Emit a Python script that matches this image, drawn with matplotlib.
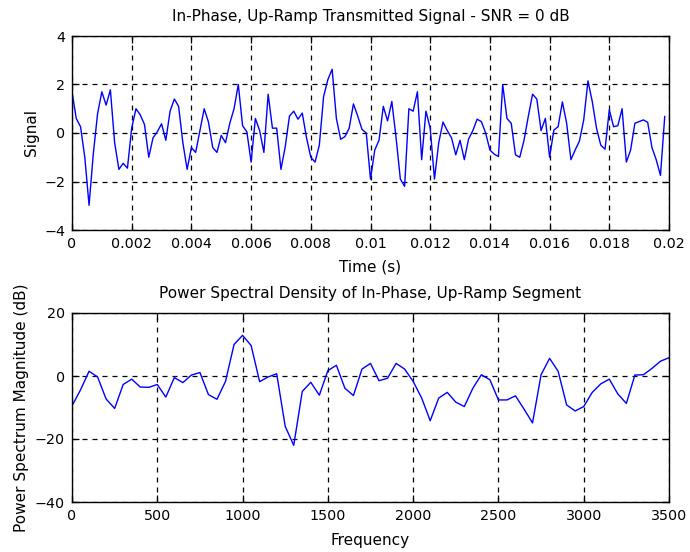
import numpy as np
import matplotlib
matplotlib.use("Agg")
import matplotlib.pyplot as plt
from matplotlib.ticker import FixedLocator, FixedFormatter

# ---- data ----
fs = 7000.0  # sample rate (Hz)
signal = [
    1.7, 0.6, 0.26, -1.0, -2.98, -0.85, 0.8, 1.7, 1.15, 1.78,
    -0.4, -1.5, -1.25, -1.45, 0.2, 1.0, 0.75, 0.35, -1.0, -0.2,
    0.05, 0.38, -0.3, 0.9, 1.4, 1.1, -0.4, -1.5, -0.6, -0.8,
    0.1, 1.0, 0.45, -0.6, -0.8, -0.1, -0.4, 0.4, 1.0, 2.0,
    0.3, 0.05, -1.2, 0.6, 0.1, -0.8, 1.6, 0.2, 0.2, -1.5,
    -0.57, 0.7, 0.9, 0.57, 0.82, -0.2, -1.0, -1.2, -0.5, 1.5,
    2.2, 2.63, 0.6, -0.26, -0.15, 0.2, 1.2, 0.7, 0.15, 0.0,
    -1.9, -0.7, -0.3, 1.1, 0.5, 1.3, -0.2, -1.9, -2.2, 1.0,
    0.9, 1.7, -1.1, 0.9, 0.2, -1.9, -0.4, 0.45, 0.1, -0.2,
    -0.9, -0.3, -1.1, -0.25, 0.1, 0.57, 0.47, 0.0, -0.7, -0.87,
    -0.97, 2.0, 0.6, 0.4, -0.9, -1.0, -0.3, 0.68, 1.6, 1.4,
    0.1, 0.6, -1.0, 0.12, 0.26, 1.28, 0.4, -1.1, -0.7, -0.33,
    0.54, 2.15, 1.3, 0.2, -0.5, -0.67, 0.96, 0.26, 0.3, 1.0,
    -1.2, -0.7, 0.4, 0.47, 0.54, 0.44, -0.6, -1.1, -1.75, 0.68,
]
time = np.arange(len(signal)) / fs

freq = np.arange(0, 3501, 50)
psd_db = [
    -9.5, -4.4, 1.5, -0.3, -7.3, -10.3, -2.7, -1.0, -3.5, -3.6,
    -2.7, -6.7, -0.5, -2.1, 0.3, 1.1, -5.9, -7.4, -1.7, 10.0,
    12.9, 9.7, -1.8, -0.3, 0.7, -16.0, -22.0, -4.9, -2.0, -6.1,
    1.7, 3.4, -3.9, -6.2, 2.2, 4.0, -1.5, -0.7, 4.0, 2.2,
    -1.7, -7.0, -14.2, -7.0, -5.2, -8.3, -9.7, -3.9, 0.4, -1.2,
    -7.6, -7.6, -6.3, -10.5, -14.9, 0.4, 5.6, 1.5, -9.2, -11.1,
    -9.7, -5.2, -2.5, -1.0, -5.7, -8.7, 0.3, 0.4, 2.4, 4.7,
    5.8,
]

top_xticks = [0, 0.002, 0.004, 0.006, 0.008, 0.01, 0.012, 0.014, 0.016, 0.018, 0.02]
top_xlabels = ["0", "0.002", "0.004", "0.006", "0.008", "0.01", "0.012", "0.014", "0.016", "0.018", "0.02"]
top_yticks = [-4, -2, 0, 2, 4]
bot_xticks = [0, 500, 1000, 1500, 2000, 2500, 3000, 3500]
bot_yticks = [-40, -20, 0, 20]

plt.rcParams['font.family'] = ['DejaVu Sans']

TICK_FS = 10.3
LABEL_FS = 11.0

fig = plt.figure(figsize=(6.9, 5.52), dpi=100)
ax1 = fig.add_axes([72/690, 1-230/552, 597/690, 194/552])
ax2 = fig.add_axes([72/690, 1-502/552, 597/690, 189/552])

def style(ax):
    ax.grid(True, color='black', linestyle=(0, (4, 4)), linewidth=0.9)
    ax.set_axisbelow(True)
    ax.tick_params(direction='in', top=True, right=True, length=5, width=0.9,
                   labelsize=TICK_FS)
    ax.tick_params(axis='x', pad=5)
    ax.tick_params(axis='y', pad=5)
    for s in ax.spines.values():
        s.set_linewidth(1.0)
        s.set_color('black')

ax1.plot(time, signal, color='#0000ff', linewidth=1.0)
ax1.set_xlim(0, 0.02)
ax1.set_ylim(-4, 4)
ax1.xaxis.set_major_locator(FixedLocator(top_xticks))
ax1.xaxis.set_major_formatter(FixedFormatter(top_xlabels))
ax1.set_yticks(top_yticks)
ax1.set_xlabel("Time (s)", fontsize=LABEL_FS, labelpad=6)
ax1.set_ylabel("Signal", fontsize=LABEL_FS, labelpad=4)
ax1.set_title("In-Phase, Up-Ramp Transmitted Signal - SNR = 0 dB", fontsize=LABEL_FS, pad=11)
style(ax1)

ax2.plot(freq, psd_db, color='#0000ff', linewidth=1.0)
ax2.set_xlim(0, 3500)
ax2.set_ylim(-40, 20)
ax2.set_xticks(bot_xticks)
ax2.set_yticks(bot_yticks)
ax2.set_xlabel("Frequency", fontsize=LABEL_FS, labelpad=7)
ax2.set_ylabel("Power Spectrum Magnitude (dB)", fontsize=LABEL_FS, labelpad=4)
ax2.set_title("Power Spectral Density of In-Phase, Up-Ramp Segment", fontsize=LABEL_FS, pad=11)
style(ax2)

fig.savefig("out.png", dpi=100, facecolor='white')
